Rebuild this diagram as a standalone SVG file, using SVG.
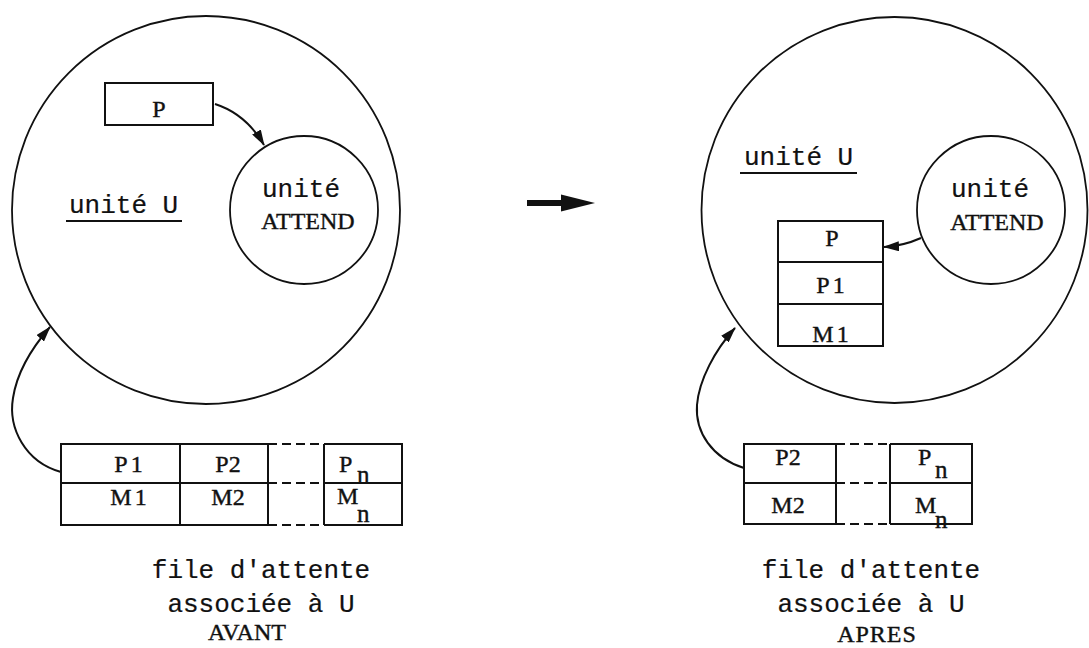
<svg xmlns="http://www.w3.org/2000/svg" width="1089" height="648" viewBox="0 0 1089 648">
<defs>
<marker id="ah" viewBox="0 0 16 10" refX="15" refY="5" markerWidth="16" markerHeight="10" markerUnits="userSpaceOnUse" orient="auto">
<path d="M0,0 L16,5 L0,10 z" fill="#111"/>
</marker>
</defs>
<style>
.ln{fill:none;stroke:#111;stroke-width:2}
.cl{fill:none;stroke:#111;stroke-width:1.8}
.ds{fill:none;stroke:#111;stroke-width:2;stroke-dasharray:9 5}
.mono{font-family:"Liberation Mono","Courier New",monospace;font-size:26px;fill:#111;stroke:#111;stroke-width:0.2}
.ser{font-family:"Liberation Serif","Times New Roman",serif;font-size:24px;fill:#111;stroke:#111;stroke-width:0.4}
.sub{font-family:"Liberation Serif","Times New Roman",serif;font-size:25px;fill:#111;stroke:#111;stroke-width:0.4}
.con{fill:none;stroke:#111;stroke-width:2;marker-end:url(#ah)}
</style>
<rect width="1089" height="648" fill="#fff"/>

<!-- AVANT -->
<g id="uniteU-avant">
<circle class="cl" cx="206" cy="210" r="194"/>
<text class="mono" x="69" y="213">unité U</text>
<line class="ln" x1="66" y1="221" x2="182" y2="221" stroke-width="1.8"/>
</g>
<g id="P-avant">
<rect class="ln" x="105" y="83" width="108" height="42"/>
<text class="ser" x="159" y="117" text-anchor="middle">P</text>
</g>
<g id="attend-avant">
<circle class="cl" cx="304" cy="210" r="74"/>
<text class="mono" x="301" y="197" text-anchor="middle">unité</text>
<text class="ser" x="308" y="229" text-anchor="middle" font-size="23">ATTEND</text>
</g>
<g id="file-avant">
<path class="ln" d="M268,444 H61 V525 H268 M61,483 H268 M324,444 H402 V525 H324 M324,483 H402 M180,444 V525 M268,444 V525 M324,444 V525"/>
<path class="ds" d="M268,444 H324 M268,483 H324 M268,525 H324"/>
<text class="ser" x="130" y="472" text-anchor="middle" letter-spacing="3">P1</text>
<text class="ser" x="228" y="472" text-anchor="middle">P2</text>
<text class="ser" x="339" y="472">P</text>
<text class="sub" x="357" y="483">n</text>
<text class="ser" x="130" y="505" text-anchor="middle" letter-spacing="3">M1</text>
<text class="ser" x="228" y="505" text-anchor="middle">M2</text>
<text class="ser" x="337" y="504">M</text>
<text class="sub" x="357" y="522">n</text>
</g>
<g id="caption-avant">
<text class="mono" x="261" y="578" text-anchor="middle">file d'attente</text>
<text class="mono" x="261" y="612" text-anchor="middle">associée à U</text>
<text class="ser" x="247" y="640" text-anchor="middle" font-size="22">AVANT</text>
</g>

<!-- transition arrow -->
<g id="transition">
<rect x="527" y="200" width="38" height="6" fill="#111"/>
<path d="M561,194.5 L595,203 L561,211.5 z" fill="#111"/>
</g>

<!-- APRES -->
<g id="uniteU-apres">
<circle class="cl" cx="894.5" cy="210" r="193"/>
<text class="mono" x="744" y="165">unité U</text>
<line class="ln" x1="740" y1="173" x2="857" y2="173" stroke-width="1.8"/>
</g>
<g id="attend-apres">
<circle class="cl" cx="991" cy="210" r="74"/>
<text class="mono" x="990" y="197" text-anchor="middle">unité</text>
<text class="ser" x="997" y="230" text-anchor="middle" font-size="23">ATTEND</text>
</g>
<g id="pile-apres">
<rect class="ln" x="778" y="221" width="105" height="125"/>
<line class="ln" x1="778" y1="262" x2="883" y2="262"/>
<line class="ln" x1="778" y1="304" x2="883" y2="304"/>
<text class="ser" x="832" y="246" text-anchor="middle">P</text>
<text class="ser" x="832" y="293" text-anchor="middle" letter-spacing="3">P1</text>
<text class="ser" x="832" y="342" text-anchor="middle" letter-spacing="3">M1</text>
</g>
<g id="file-apres">
<path class="ln" d="M836,444 H744 V524 H836 M744,483 H836 M890,444 H972 V524 H890 M890,483 H972 M836,444 V524 M890,444 V524"/>
<path class="ds" d="M836,444 H890 M836,483 H890 M836,524 H890"/>
<text class="ser" x="788" y="465" text-anchor="middle">P2</text>
<text class="ser" x="788" y="513" text-anchor="middle">M2</text>
<text class="ser" x="918" y="465">P</text>
<text class="sub" x="935" y="478">n</text>
<text class="ser" x="915" y="513">M</text>
<text class="sub" x="935" y="528">n</text>
</g>
<g id="caption-apres">
<text class="mono" x="871" y="578" text-anchor="middle">file d'attente</text>
<text class="mono" x="871" y="612" text-anchor="middle">associée à U</text>
<text class="ser" x="877" y="642" text-anchor="middle" letter-spacing="1">APRES</text>
</g>

<g id="connectors">
<path class="con" d="M215,104 Q246,114 264,145"/>
<path class="con" d="M61,472 C25,462 8,428 13,398 C17,372 30,350 50,327"/>
<path class="con" d="M921,238 Q903,246 884,247"/>
<path class="con" d="M744,468 C712,458 695,432 697,405 C699,380 715,350 735,328"/>
</g>
</svg>
